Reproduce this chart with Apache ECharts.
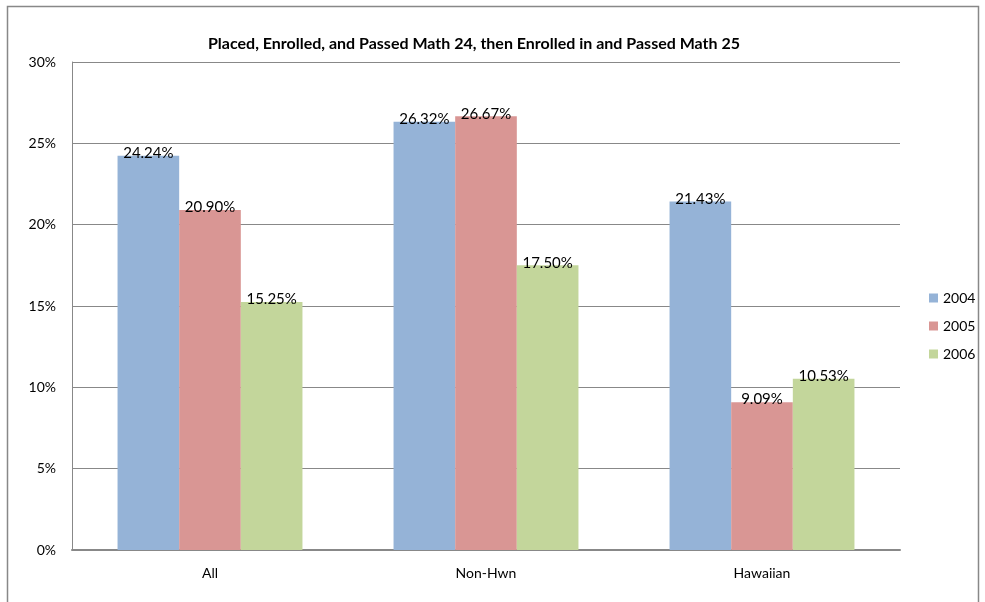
<!DOCTYPE html>
<html><head><meta charset="utf-8">
<script src="https://cdn.jsdelivr.net/npm/echarts@6/dist/echarts.min.js"></script>
<style>html,body{margin:0;padding:0;background:#fff}#c{width:985px;height:602px}</style>
</head><body><div id="c"></div>
<script>
const categories = ['All', 'Non-Hwn', 'Hawaiian'];
const s2004 = [24.24, 26.32, 21.43];
const s2005 = [20.90, 26.67, 9.09];
const s2006 = [15.25, 17.50, 10.53];
const seriesNames = ['2004', '2005', '2006'];
const colors = ['#95B3D7', '#D99694', '#C3D69B'];
const FONT = 'Lato';
const chart = echarts.init(document.getElementById('c'));
const mk = (name, data, color) => ({
  name, type: 'bar', data, barGap: '0%', barCategoryGap: '33%',
  itemStyle: { color },
  label: { show: true, position: 'top', distance: -5, color: '#000', fontFamily: FONT, fontSize: 15,
    formatter: p => p.value.toFixed(2) + '%' }
});
chart.setOption({
  animation: false,
  textStyle: { fontFamily: FONT },
  graphic: [{ type: 'rect', shape: { x: 7.5, y: 6.5, width: 971, height: 620 }, style: { fill: 'none', stroke: '#888', lineWidth: 1.5 } }],
  title: { text: 'Placed, Enrolled, and Passed Math 24, then Enrolled in and Passed Math 25', left: 469, textAlign: 'center', top: 31,
    textStyle: { fontFamily: FONT, fontSize: 16, fontWeight: 'bold', color: '#000' } },
  legend: { orient: 'vertical', left: 924, top: 286, itemWidth: 9, itemHeight: 9, itemGap: 14, icon: 'rect',
    textStyle: { fontFamily: FONT, fontSize: 14, color: '#000' }, data: seriesNames },
  grid: { left: 72, right: 85, top: 62, bottom: 52 },
  xAxis: { type: 'category', data: categories, axisTick: { show: false },
    axisLine: { lineStyle: { color: '#888', width: 2 } },
    axisLabel: { color: '#000', fontFamily: FONT, fontSize: 14, margin: 16 } },
  yAxis: { type: 'value', min: 0, max: 30, interval: 5,
    axisLine: { show: true, lineStyle: { color: '#888' } },
    axisLabel: { color: '#000', fontFamily: FONT, fontSize: 14, margin: 16, formatter: v => v + '%' },
    splitLine: { lineStyle: { color: '#888' } } },
  series: [mk(seriesNames[0], s2004, colors[0]), mk(seriesNames[1], s2005, colors[1]), mk(seriesNames[2], s2006, colors[2])]
});
</script></body></html>
